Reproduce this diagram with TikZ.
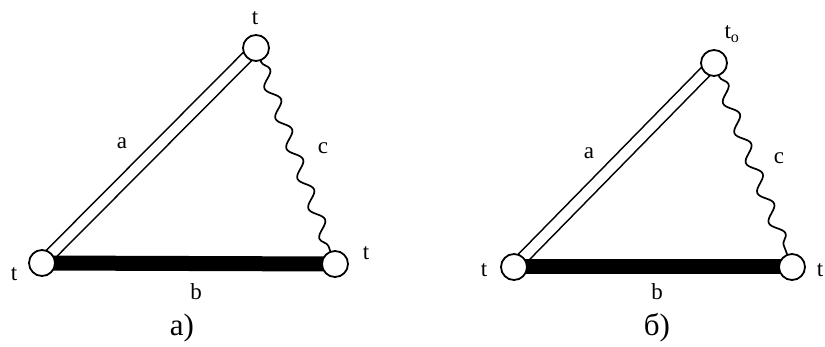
\documentclass[tikz,border=0pt]{standalone}
\usepackage{fontspec}
\setmainfont{Liberation Serif}
\usetikzlibrary{decorations.pathmorphing,backgrounds}
\begin{document}
\begin{tikzpicture}[x=1pt,y=-1pt,
  vert/.style={circle,draw,fill=white,line width=1.8pt,minimum size=26pt,inner sep=0pt},
  lbl/.style={inner sep=0pt,font=\fontsize{23}{23}\selectfont},
  captext/.style={inner sep=0pt,font=\fontsize{31}{31}\selectfont},
  dbl/.style={double,double distance=10pt,line width=1.6pt},
  bar/.style={line width=15pt},
  wave/.style={line width=1.7pt,decorate,decoration={snake,amplitude=6pt,segment length=32pt,pre length=1pt,post length=1pt}}]
\useasboundingbox (0,0) rectangle (825,347);
% left panel
\node[vert] (A1) at (42,263) {};
\node[vert] (B1) at (256,48) {};
\node[vert] (C1) at (335,264) {};
\begin{scope}[on background layer]
\draw[dbl] (A1.center) -- (B1.center);
\draw[bar] (A1.center) -- (C1.center);
\end{scope}
\draw[wave] (B1) -- (C1);
\node[lbl] (tB1) at (255,18) {t};
\node[lbl] (tA1) at (14,274) {t};
\node[lbl] (tC1) at (366,253) {t};
\node[lbl] (la1) at (122,143) {a};
\node[lbl] (lc1) at (323,148) {c};
\node[lbl] (lb1) at (196,292) {b};
\node[captext] (cap1) at (182,328) {a)};
% right panel
\node[vert] (A2) at (514,267) {};
\node[vert] (B2) at (714,63) {};
\node[vert] (C2) at (792,267) {};
\begin{scope}[on background layer]
\draw[dbl] (A2.center) -- (B2.center);
\draw[bar] (A2.center) -- (C2.center);
\end{scope}
\draw[wave] (B2) -- (C2);
\node[lbl] (tB2) at (732,34) {t\textsubscript{o}};
\node[lbl] (tA2) at (484,270) {t};
\node[lbl] (tC2) at (820,270) {t};
\node[lbl] (la2) at (589,153) {a};
\node[lbl] (lc2) at (779,158) {c};
\node[lbl] (lb2) at (657,292) {b};
\node[captext] (cap2) at (657,328) {б)};
\end{tikzpicture}
\end{document}
